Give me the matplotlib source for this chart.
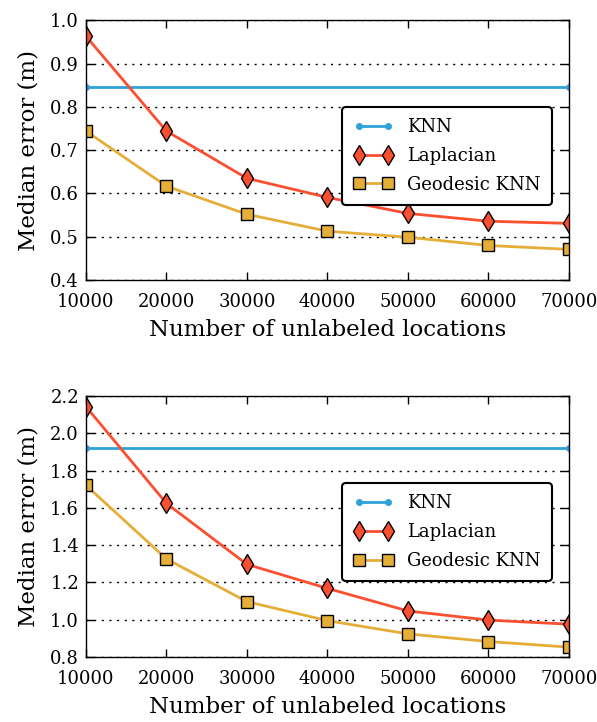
import matplotlib
matplotlib.use("Agg")
import matplotlib.pyplot as plt

x = [10000, 20000, 30000, 40000, 50000, 60000, 70000]

# top panel
knn_top = [0.845] * 7
lap_top = [0.963, 0.744, 0.635, 0.591, 0.554, 0.536, 0.531]
geo_top = [0.744, 0.617, 0.552, 0.513, 0.499, 0.480, 0.471]

# bottom panel
knn_bot = [1.92] * 7
lap_bot = [2.143, 1.624, 1.297, 1.168, 1.047, 0.998, 0.976]
geo_bot = [1.721, 1.326, 1.097, 0.995, 0.924, 0.883, 0.853]

xticks = [10000, 20000, 30000, 40000, 50000, 60000, 70000]

plt.rcParams['font.family'] = ['DejaVu Serif']
plt.rcParams['mathtext.fontset'] = 'dejavuserif'

fig = plt.figure(figsize=(5.97, 7.22), dpi=100)
ax1 = fig.add_axes([0.144, 0.612, 0.809, 0.360])
ax2 = fig.add_axes([0.144, 0.090, 0.809, 0.3615])


def draw(ax, knn, lap, geo, ylim, yticks, fmt):
    ax.plot(x, knn, color='#30a2da', lw=2, marker='o', ms=4,
            markevery=[0, len(x) - 1], label='KNN')
    ax.plot(x, lap, color='#fc4f30', lw=2, marker='d', ms=10,
            mec='black', mew=1, label='Laplacian')
    ax.plot(x, geo, color='#e5ae38', lw=2, marker='s', ms=8,
            mec='black', mew=1, label='Geodesic KNN')
    ax.set_xlim(10000, 70000)
    ax.set_ylim(*ylim)
    ax.set_xticks(xticks)
    ax.set_xticklabels([str(t) for t in xticks])
    ax.set_yticks(yticks)
    ax.set_yticklabels([fmt % v for v in yticks])
    ax.yaxis.grid(True, color='black', ls=(0, (1.5, 4)), lw=1)
    ax.set_axisbelow(True)
    ax.tick_params(direction='in', length=6, width=1, top=True, right=True,
                   labelsize=13)
    ax.tick_params(axis='x', pad=9)
    ax.tick_params(axis='y', pad=5)
    for s in ax.spines.values():
        s.set_linewidth(1)
        s.set_color('black')
    ax.set_ylabel('Median error (m)', fontsize=16.5, labelpad=8)
    ax.set_xlabel('Number of unlabeled locations', fontsize=16.5, labelpad=6)
    leg = ax.legend(loc='upper right', bbox_to_anchor=(0.983, 0.70),
                    numpoints=2, fontsize=13, fancybox=True, framealpha=1,
                    handlelength=2.2, borderpad=0.6, labelspacing=0.6)
    leg.get_frame().set_edgecolor('black')
    leg.get_frame().set_linewidth(1.5)


draw(ax1, knn_top, lap_top, geo_top, (0.4, 1.0),
     [0.4, 0.5, 0.6, 0.7, 0.8, 0.9, 1.0], '%.1f')
draw(ax2, knn_bot, lap_bot, geo_bot, (0.8, 2.2),
     [0.8, 1.0, 1.2, 1.4, 1.6, 1.8, 2.0, 2.2], '%.1f')

fig.savefig('out.png', dpi=100)
